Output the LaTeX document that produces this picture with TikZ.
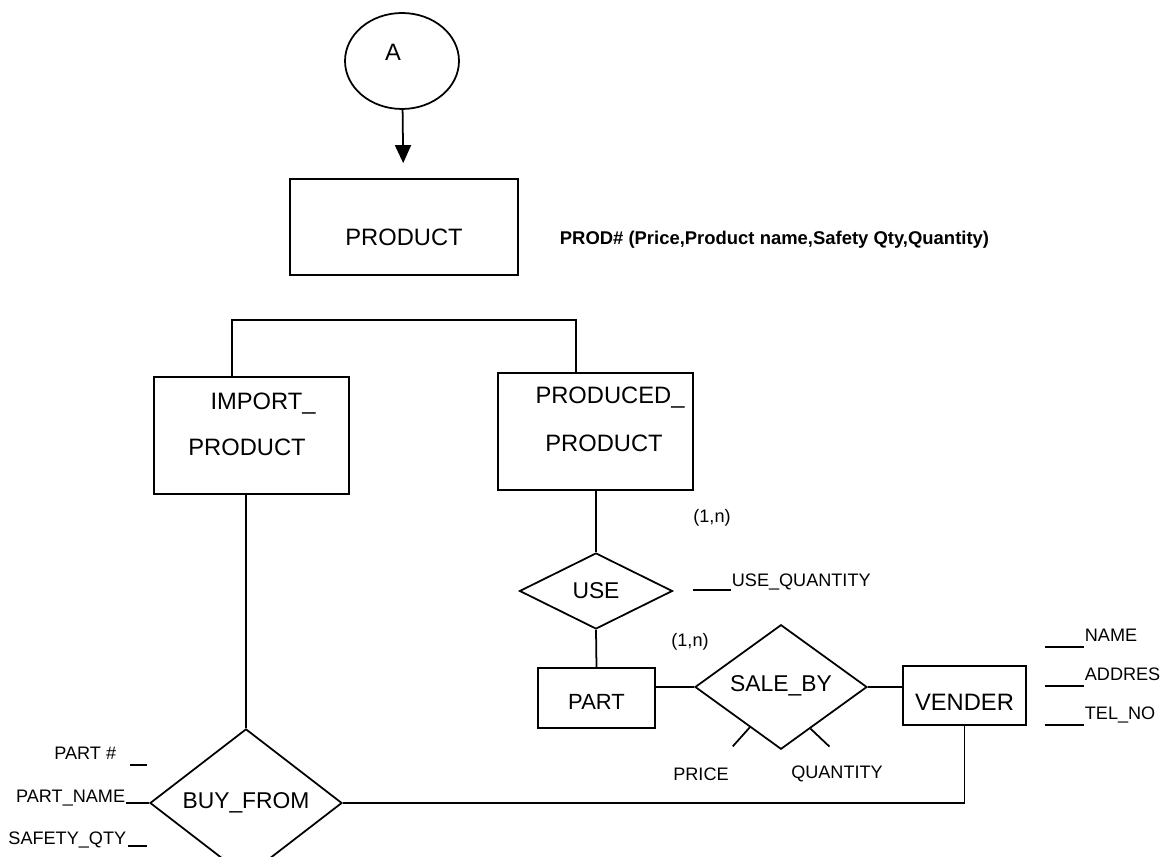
\documentclass[tikz,border=0pt]{standalone}
\usepackage{fontspec}
\setmainfont{Liberation Sans}
\usetikzlibrary{positioning, arrows.meta, shapes.geometric, calc}

\begin{document}
\begin{tikzpicture}[
  x=0.02cm, y=-0.02cm, line width=1pt,
  entity/.style={draw, inner sep=0pt, font=\fontsize{13.5}{15}\selectfont},
  relship/.style={draw, diamond, inner sep=0pt, font=\fontsize{13}{15}\selectfont},
  ename/.style={inner sep=0pt, font=\fontsize{13.5}{15}\selectfont},
  attrib/.style={inner sep=0pt, font=\fontsize{10.3}{12}\selectfont},
  arrow/.style={-{Triangle[length=0.36cm, width=0.32cm]}, shorten >=0.3cm}
]
\useasboundingbox (0,0) rectangle (1161,857);

% connector and supertype
\node[draw, ellipse, minimum width=2.28cm, minimum height=1.92cm, inner sep=0pt] (conA) at (402,61) {};
\node[ename] (conAT) at (393,52) {A};
\node[entity, minimum width=4.56cm, text height=1.34cm, text depth=0.58cm] (prod) at (404,227) {PRODUCT};
\node[attrib, anchor=west, font=\bfseries\fontsize{10.5}{12}\selectfont] (prodAttr) at (559,240)
  {PROD\# (Price,Product name,Safety Qty,Quantity)};
\draw[arrow] (conA) -- (prod);

% subtypes
\node[entity, minimum width=3.9cm, minimum height=2.34cm] (imp) at (251.5,435.5) {};
\node[ename] (impT1) at (263,404) {IMPORT\_};
\node[ename] (impT2) at (247,447) {PRODUCT};
\node[entity, minimum width=3.9cm, minimum height=2.34cm] (pp) at (595.5,431.5) {};
\node[ename] (ppT1) at (610,398) {PRODUCED\_};
\node[ename] (ppT2) at (604,443) {PRODUCT};
\coordinate (isaL) at (232,320);
\coordinate (isaR) at (576,320);
\draw (imp.north -| isaL) -- (isaL) -- (isaR) -- (pp.north -| isaR);

% USE
\node[relship, minimum width=3.06cm, minimum height=1.52cm] (use) at (596,591) {USE};
\node[attrib] (card1) at (712,518) {(1,n)};
\node[attrib, anchor=base west] (useQty) at (731,587) {USE\_QUANTITY};
\draw (pp.south -| use.north) -- (use.north);
\draw ($(useQty.base west)+(-38,3)$) -- ($(useQty.base west)+(0,3)$);

% PART, SALE_BY, VENDER
\node[entity, minimum width=2.34cm, text height=0.83cm, text depth=0.37cm, font=\fontsize{12.5}{15}\selectfont] (part) at (596.5,698) {PART};
\node[relship, minimum width=3.44cm, minimum height=2.32cm] (sale) at (781,687) {\raisebox{4pt}{SALE\_BY}};
\node[entity, minimum width=2.46cm, text height=0.9cm, text depth=0.28cm] (vend) at (964.5,695.5) {VENDER};
\node[attrib] (card2) at (690,642) {(1,n)};
\draw (use.south) -- (part.north);
\draw (sale.west) -- (sale.west -| part.east);
\draw (sale.east) -- (sale.east -| vend.west);
\draw ($(sale.west)!0.64!(sale.south)$) -- ++(-17,19);
\draw ($(sale.south)!0.34!(sale.east)$) -- ++(19,18);
\node[attrib] (price) at (701,774) {PRICE};
\node[attrib] (qty) at (837,774) {QUANTITY};

% vender attributes
\foreach \txt/\yy [count=\i] in {NAME/642, ADDRES/681, TEL\_NO/720} {
  \node[attrib, anchor=base west] (vA\i) at (1084,\yy) {\txt};
  \draw ($(vA\i.base west)+(-39,5)$) -- ($(vA\i.base west)+(0,5)$);
}

% BUY_FROM
\node[relship, minimum width=3.84cm, minimum height=2.32cm] (buy) at (246,803) {\raisebox{3pt}{BUY\_FROM}};
\draw (buy.north) -- (buy.north |- imp.south);
\draw (vend.south) |- (buy.east);
\node[attrib, anchor=base east] (partNo) at (117,760) {PART \#};
\node[attrib, anchor=base east] (partName) at (126,803) {PART\_NAME};
\node[attrib, anchor=base east] (safety) at (127,845) {SAFETY\_QTY};
\draw ($(partNo.base east)+(13,5)$) -- ++(17,0);
\draw (partName.base east) -- (buy.west);
\draw ($(safety.base east)+(1,1)$) -- ++(19,0);
\end{tikzpicture}
\end{document}
